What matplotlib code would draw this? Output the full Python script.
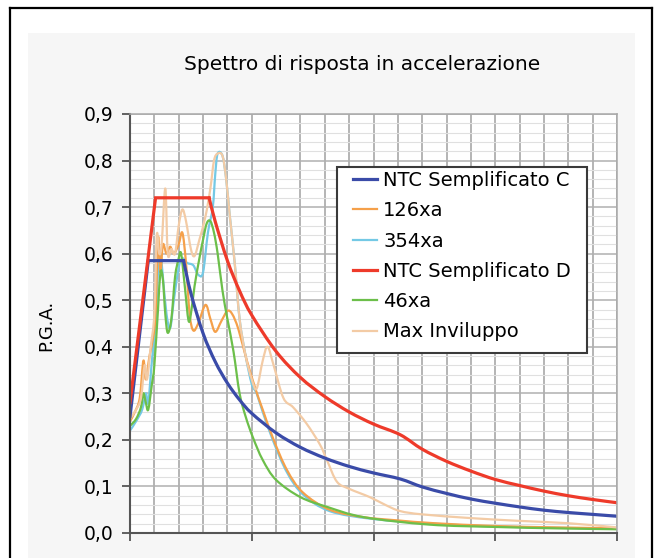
import matplotlib.pyplot as plt
from matplotlib.lines import Line2D
from matplotlib.patches import Rectangle, PathPatch
from matplotlib.path import Path
from matplotlib.ticker import MultipleLocator, FuncFormatter

plt.rcParams['font.family'] = ['DejaVu Sans']

# periodo T [s] e accelerazione spettrale [g]
t_ntc_c = [0.0, 0.15, 0.44, 0.5, 0.6, 0.7, 0.8, 0.9, 1.0, 1.2, 1.4, 1.6, 1.8, 2.0, 2.22,
           2.4, 2.6, 2.8, 3.0, 3.2, 3.4, 3.6, 3.8, 4.0]
v_ntc_c = [0.25, 0.585, 0.585, 0.515, 0.429, 0.368, 0.322, 0.286, 0.257, 0.215, 0.184, 0.161,
           0.143, 0.129, 0.116, 0.099, 0.085, 0.073, 0.064, 0.056, 0.049, 0.044, 0.040, 0.036]

t_ntc_d = [0.0, 0.21, 0.65, 0.7, 0.8, 0.9, 1.0, 1.2, 1.4, 1.6, 1.8, 2.0, 2.22,
           2.4, 2.6, 2.8, 3.0, 3.2, 3.4, 3.6, 3.8, 4.0]
v_ntc_d = [0.28, 0.72, 0.72, 0.669, 0.585, 0.52, 0.468, 0.39, 0.334, 0.293, 0.26, 0.234, 0.211,
           0.180, 0.154, 0.133, 0.115, 0.102, 0.090, 0.080, 0.072, 0.065]

t_126 = [0.0, 0.04, 0.08, 0.11, 0.13, 0.16, 0.19, 0.21, 0.23, 0.25, 0.27, 0.30, 0.33, 0.36,
         0.40, 0.43, 0.46, 0.49, 0.52, 0.56, 0.62, 0.66, 0.70, 0.75, 0.80, 0.84, 0.89, 0.96,
         1.03, 1.09, 1.18, 1.29, 1.42, 1.64, 1.92, 2.2, 2.5, 3.0, 3.5, 4.0]
v_126 = [0.24, 0.26, 0.29, 0.37, 0.33, 0.38, 0.42, 0.47, 0.635, 0.56, 0.62, 0.60, 0.615, 0.60,
         0.62, 0.645, 0.58, 0.47, 0.435, 0.45, 0.49, 0.46, 0.432, 0.455, 0.477, 0.47, 0.438, 0.37,
         0.31, 0.265, 0.20, 0.135, 0.087, 0.05, 0.034, 0.027, 0.021, 0.015, 0.012, 0.010]

t_354 = [0.0, 0.05, 0.10, 0.13, 0.15, 0.18, 0.21, 0.23, 0.25, 0.27, 0.30, 0.33, 0.36, 0.40,
         0.43, 0.47, 0.52, 0.56, 0.60, 0.64, 0.68, 0.70, 0.72, 0.76, 0.79, 0.82, 0.86, 0.90,
         0.95, 1.0, 1.04, 1.09, 1.18, 1.29, 1.42, 1.64, 2.0, 2.5, 3.0, 4.0]
v_354 = [0.22, 0.24, 0.265, 0.30, 0.28, 0.37, 0.45, 0.56, 0.60, 0.55, 0.47, 0.44, 0.50, 0.57,
         0.59, 0.58, 0.575, 0.555, 0.56, 0.645, 0.70, 0.77, 0.815, 0.81, 0.76, 0.68, 0.58, 0.46,
         0.38, 0.32, 0.30, 0.26, 0.195, 0.13, 0.083, 0.047, 0.03, 0.02, 0.014, 0.009]

t_46 = [0.0, 0.05, 0.09, 0.11, 0.13, 0.15, 0.18, 0.20, 0.23, 0.25, 0.27, 0.29, 0.31, 0.34,
        0.37, 0.40, 0.42, 0.45, 0.48, 0.50, 0.53, 0.57, 0.60, 0.63, 0.66, 0.69, 0.72, 0.76,
        0.80, 0.85, 0.90, 0.95, 1.01, 1.09, 1.20, 1.40, 1.62, 1.92, 2.46, 3.0, 3.5, 4.0]
v_46 = [0.23, 0.245, 0.27, 0.30, 0.28, 0.265, 0.32, 0.36, 0.48, 0.56, 0.545, 0.47, 0.43, 0.46,
        0.55, 0.59, 0.60, 0.53, 0.457, 0.47, 0.53, 0.59, 0.63, 0.665, 0.67, 0.645, 0.60, 0.52,
        0.46, 0.39, 0.30, 0.25, 0.205, 0.157, 0.114, 0.077, 0.056, 0.034, 0.018, 0.013, 0.010, 0.008]

t_max = [0.0, 0.05, 0.09, 0.12, 0.14, 0.17, 0.20, 0.22, 0.24, 0.26, 0.29, 0.31, 0.34, 0.37,
         0.40, 0.43, 0.46, 0.50, 0.53, 0.57, 0.62, 0.66, 0.69, 0.72, 0.76, 0.79, 0.82, 0.86,
         0.90, 0.95, 1.0, 1.04, 1.09, 1.13, 1.18, 1.26, 1.34, 1.45, 1.56, 1.62, 1.70, 1.80,
         1.97, 2.1, 2.22, 2.4, 2.8, 3.2, 3.6, 4.0]
v_max = [0.245, 0.265, 0.29, 0.36, 0.33, 0.40, 0.47, 0.64, 0.60, 0.62, 0.74, 0.60, 0.61, 0.60,
         0.66, 0.695, 0.67, 0.61, 0.595, 0.63, 0.68, 0.74, 0.80, 0.815, 0.81, 0.76, 0.68, 0.58,
         0.46, 0.38, 0.33, 0.31, 0.37, 0.40, 0.36, 0.29, 0.27, 0.235, 0.19, 0.155, 0.11, 0.095,
         0.077, 0.06, 0.047, 0.04, 0.032, 0.026, 0.021, 0.012]

W, H = 659, 558


def fx(px):
    return px / W


def fy(py):
    return 1 - py / H


def smooth_line(ax, xs, ys, color, lw, z):
    # linea smussata come in Excel (Catmull-Rom -> Bezier)
    pts = list(zip(xs, ys))
    verts = [pts[0]]
    codes = [Path.MOVETO]
    for i in range(len(pts) - 1):
        p0 = pts[i - 1] if i > 0 else pts[i]
        p1 = pts[i]
        p2 = pts[i + 1]
        p3 = pts[i + 2] if i + 2 < len(pts) else pts[i + 1]
        c1 = (p1[0] + (p2[0] - p0[0]) / 6, p1[1] + (p2[1] - p0[1]) / 6)
        c2 = (p2[0] - (p3[0] - p1[0]) / 6, p2[1] - (p3[1] - p1[1]) / 6)
        verts += [c1, c2, p2]
        codes += [Path.CURVE4] * 3
    ax.add_patch(PathPatch(Path(verts, codes), fill=False, edgecolor=color, lw=lw, zorder=z,
                           capstyle='round', joinstyle='round'))
    return Line2D([], [], color=color, lw=lw)


fig = plt.figure(figsize=(W / 100, H / 100), dpi=100)
fig.patch.set_facecolor('white')

# pannello grigio chiaro e cornice esterna
fig.patches.append(Rectangle((fx(28), 0), fx(635) - fx(28), fy(33), transform=fig.transFigure,
                             facecolor='#f6f6f6', edgecolor='none', zorder=-1))
for xs, ys in [([fx(10), fx(10)], [0, fy(8)]), ([fx(10), fx(652)], [fy(8), fy(8)]),
               ([fx(652), fx(652)], [fy(8), 0])]:
    fig.add_artist(Line2D(xs, ys, transform=fig.transFigure, color='black', lw=1.6))

ax = fig.add_axes([fx(130), fy(533), fx(617) - fx(130), fy(114) - fy(533)])
ax.set_zorder(1)
ax.set_facecolor('white')
ax.set_xlim(0, 4)
ax.set_ylim(0, 0.9)

ax.xaxis.set_major_locator(MultipleLocator(1))
ax.xaxis.set_minor_locator(MultipleLocator(0.2))
ax.yaxis.set_major_locator(MultipleLocator(0.1))
ax.yaxis.set_minor_locator(MultipleLocator(0.02))
ax.yaxis.set_major_formatter(FuncFormatter(lambda v, p: f'{v:.1f}'.replace('.', ',')))
ax.set_xticklabels([])
ax.tick_params(axis='both', which='major', direction='out', length=6, width=1.3, color='#555555')
ax.tick_params(axis='y', which='major', labelsize=13.5, pad=6)
ax.tick_params(axis='both', which='minor', length=0)

ax.set_axisbelow(True)
ax.grid(True, axis='x', which='both', color='#a0a0a0', lw=1.1)
ax.grid(True, axis='y', which='major', color='#b0b0b0', lw=1.1)
ax.grid(True, axis='y', which='minor', color='#e0e0e0', lw=0.8)
for s in ['left', 'bottom']:
    ax.spines[s].set_color('#555555')
    ax.spines[s].set_linewidth(1.5)
for s in ['top', 'right']:
    ax.spines[s].set_color('#a8a8a8')
    ax.spines[s].set_linewidth(1.1)

l354 = smooth_line(ax, t_354, v_354, '#74c9e5', 1.6, 2.0)
l126 = smooth_line(ax, t_126, v_126, '#f5a04a', 1.6, 2.1)
l46 = smooth_line(ax, t_46, v_46, '#6cbf4a', 1.6, 2.2)
lmax = smooth_line(ax, t_max, v_max, '#f3cba5', 1.6, 2.3)

# spettri NTC: salita e plateau rettilinei, ramo discendente smussato
lc, = ax.plot(t_ntc_c[:3], v_ntc_c[:3], color='#3a4ba8', lw=2.3, zorder=2.4,
              solid_joinstyle='miter')
smooth_line(ax, t_ntc_c[2:], v_ntc_c[2:], '#3a4ba8', 2.3, 2.4)
ld, = ax.plot(t_ntc_d[:3], v_ntc_d[:3], color='#ee3a2a', lw=2.3, zorder=2.5,
              solid_joinstyle='miter')
smooth_line(ax, t_ntc_d[2:], v_ntc_d[2:], '#ee3a2a', 2.3, 2.5)

ax.add_patch(Rectangle((fx(337), fy(353)), fx(587) - fx(337), fy(167) - fy(353),
                       transform=fig.transFigure, facecolor='white', edgecolor='#3a3a3a',
                       lw=1.5, zorder=4, clip_on=False))
leg = ax.legend([lc, l126, l354, ld, l46, lmax],
                ['NTC Semplificato C', '126xa', '354xa', 'NTC Semplificato D', '46xa', 'Max Inviluppo'],
                loc='upper left', bbox_to_anchor=(fx(353), fy(171)), bbox_transform=fig.transFigure,
                frameon=False, fontsize=14, borderpad=0, borderaxespad=0, handlelength=1.25,
                handletextpad=0.3, labelspacing=0.58)
leg.set_zorder(5)

fig.text(fx(362), fy(65), 'Spettro di risposta in accelerazione', ha='center', va='center', fontsize=14.5)
fig.text(fx(46), fy(325), 'P.G.A.', ha='center', va='center', rotation=90, fontsize=13)

fig.savefig('out.png', dpi=100)
